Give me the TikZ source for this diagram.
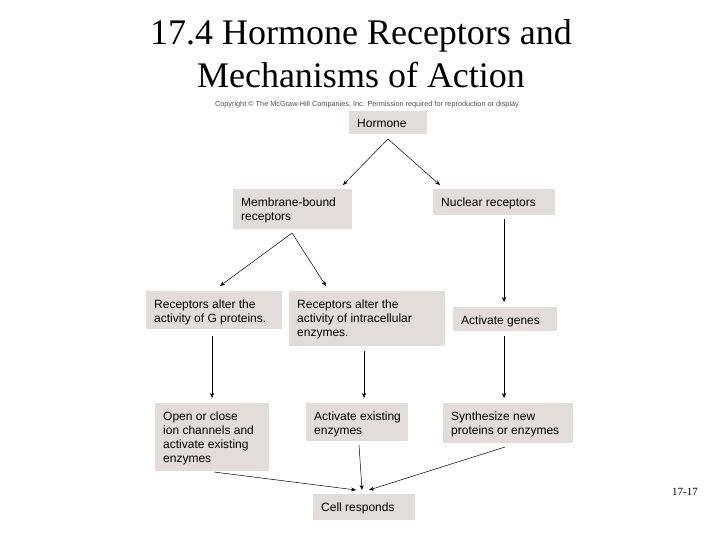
\documentclass[tikz,border=0pt]{standalone}
\usepackage{fontspec}
\setmainfont{Liberation Serif}
\newfontfamily\sansf{Liberation Sans}
\usetikzlibrary{arrows.meta}
\definecolor{boxg}{RGB}{226,221,219}
\begin{document}
\begin{tikzpicture}[x=1pt,y=-1pt,
 bx/.style={draw=none,inner sep=0pt,font=\sansf\fontsize{12}{14}\selectfont,align=left},
 ar/.style={-{Stealth[length=5pt,width=4pt]},line width=0.5pt}]
\useasboundingbox (0,0) rectangle (720,540);
\node[font=\fontsize{36}{43}\selectfont,align=center] (t) at (361,54) {17.4 Hormone Receptors and\\Mechanisms of Action};
\node[font=\sansf\fontsize{7.3}{8}\selectfont,text=gray!60!black] (c) at (367,105) {Copyright \textcopyright{} The McGraw-Hill Companies, Inc. Permission required for reproduction or display};
\newcommand{\bbox}[6]{\fill[boxg] (#2,#3) rectangle (#4,#5); \node[bx,anchor=north west] (#1) at (#2+8,#3+8.5) {#6}; \coordinate (#1-t) at ({(#2+#4)/2},#3); \coordinate (#1-b) at ({(#2+#4)/2},#5);}
\bbox{h}{349}{111}{427}{134}{Hormone}
\bbox{m}{233}{189}{352}{229}{Membrane-bound\\receptors}
\bbox{n}{433}{189}{555}{215}{Nuclear receptors}
\bbox{g}{146}{291}{282}{329}{Receptors alter the\\activity of G proteins.}
\bbox{e}{289}{291}{445}{346}{Receptors alter the\\activity of intracellular\\enzymes.}
\bbox{a}{453}{307}{557}{331}{Activate genes}
\bbox{o}{155}{403}{269}{471}{Open or close\\ion channels and\\activate existing\\enzymes}
\bbox{x}{306}{403}{408}{441}{Activate existing\\enzymes}
\bbox{s}{443}{403}{573}{443}{Synthesize new\\proteins or enzymes}
\bbox{r}{313}{494}{415}{520}{Cell responds}
\node[font=\fontsize{11}{13}\selectfont] (p) at (685,492) {17-17};
\coordinate (h1) at (388,139); \coordinate (m1) at (292,233);
\draw[ar] (h1) -- (343,185); \draw[ar] (h1) -- (440,185);
\draw[ar] (m1) -- (220,286); \draw[ar] (m1) -- (326,286);
\draw[ar] (504,219) -- (504,302);
\draw[ar] (212,336) -- (212,398);
\draw[ar] (364,351) -- (364,398);
\draw[ar] (504,336) -- (504,398);
\draw[ar] (214,472) -- (356,490);
\draw[ar] (359,445) -- (362,490);
\draw[ar] (505,447) -- (369,490);
\end{tikzpicture}
\end{document}
